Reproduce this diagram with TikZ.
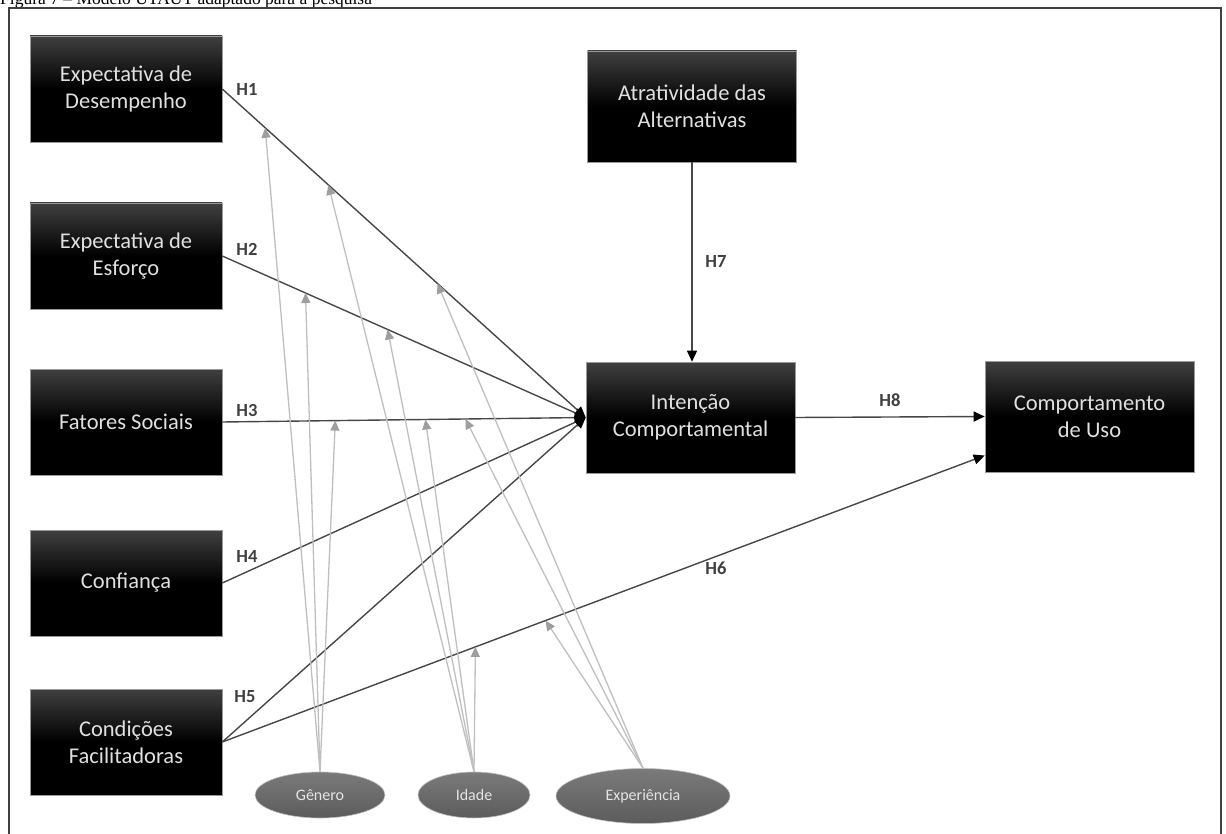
\documentclass[tikz,border=0pt]{standalone}
\usepackage{fontspec}
\setmainfont{Carlito}
\newfontfamily\titlefont{Liberation Serif}
\usetikzlibrary{arrows.meta,shapes.geometric}
\begin{document}
\begin{tikzpicture}[x=1pt,y=-1pt,
  box/.style={draw=black!40, line width=0.6pt, top color=black!75, bottom color=black, middle color=black,
    minimum width=192pt, minimum height=106pt, inner sep=0pt, align=center,
    text=white!88!black, font=\fontsize{22.5}{27}\selectfont},
  bigbox/.style={box, minimum width=209pt, minimum height=111pt},
  oval/.style={ellipse, draw=black!25, line width=0.6pt, top color=black!52, bottom color=black!64,
    inner sep=0pt, text=white!90!black, font=\fontsize{16}{19}\selectfont},
  mainarr/.style={draw=black!72, line width=1.4pt, -{Triangle[length=11pt,width=10pt,color=black]}},
  modarr/.style={draw=black!25, line width=1.3pt, -{Triangle[length=10pt,width=9pt,color=black!38]}},
  hlab/.style={font=\bfseries\fontsize{18.5}{20}\selectfont, text=black!75, inner sep=0pt}
]
\useasboundingbox (0,0) rectangle (1226,834);
% title (cut by the page edge)
\node[anchor=base west, inner sep=0pt, font=\titlefont\fontsize{17.5}{19}\selectfont] (title) at (0,5)
  {Figura 7 – Modelo UTAUT adaptado para a pesquisa};
% frame
\draw[black!75, line width=2pt] (9,845) -- (9,8) -- (1221,8) -- (1221,845);
% boxes
\node[box] (B1) at (126,89) {Expectativa de\\Desempenho};
\node[box] (B2) at (126,256) {Expectativa de\\Esforço};
\node[box] (B3) at (126,422) {Fatores Sociais};
\node[box] (B4) at (126,583) {Confiança};
\node[box] (B5) at (126,742) {Condições\\Facilitadoras};
\node[bigbox] (A) at (692,106.5) {Atratividade das\\Alternativas};
\node[bigbox] (I) at (690.5,417.5) {Intenção\\Comportamental};
\node[bigbox] (C) at (1089.5,416.5) {Comportamento\\de Uso};
% moderators
\node[oval, minimum width=130pt, minimum height=46pt] (G) at (320,795) {Gênero};
\node[oval, minimum width=112pt, minimum height=46pt] (D) at (474,795) {Idade};
\node[oval, minimum width=174pt, minimum height=55pt] (E) at (643,796) {Experiência};
% main connectors
\draw[mainarr] (B1.east) -- coordinate[pos=0.118] (m1g) coordinate[pos=0.292] (m1i) coordinate[pos=0.592] (m1e) (I.west);
\draw[mainarr] (B2.east) -- coordinate[pos=0.229] (m2g) coordinate[pos=0.455] (m2i) (I.west);
\draw[mainarr] (B3.east) -- coordinate[pos=0.311] (m3g) coordinate[pos=0.559] (m3i) coordinate[pos=0.669] (m3e) (I.west);
\draw[mainarr] (B4.east) -- (I.west);
\draw[mainarr] (B5.east) -- (I.west);
\draw[mainarr] (B5.east) -- coordinate[pos=0.332] (m6i) coordinate[pos=0.424] (m6e) ([yshift=-39pt]C.west);
\draw[mainarr] (A.south) -- (A.south |- I.north);
\draw[mainarr] (I.east) -- (C.west);
% moderator connectors
\draw[modarr] (G.north) -- (m1g);
\draw[modarr] (G.north) -- (m2g);
\draw[modarr] (G.north) -- (m3g);
\draw[modarr] (D.north) -- (m1i);
\draw[modarr] (D.north) -- (m2i);
\draw[modarr] (D.north) -- (m3i);
\draw[modarr] (D.north) -- (m6i);
\draw[modarr] (E.north) -- (m1e);
\draw[modarr] (E.north) -- (m3e);
\draw[modarr] (E.north) -- (m6e);
% labels
\node[hlab] (h1) at (247,89) {H1};
\node[hlab] (h2) at (247,249) {H2};
\node[hlab] (h3) at (247,410) {H3};
\node[hlab] (h4) at (247,556) {H4};
\node[hlab] (h5) at (245,697) {H5};
\node[hlab] (h6) at (716,568) {H6};
\node[hlab] (h7) at (716,262) {H7};
\node[hlab] (h8) at (890,400) {H8};
\end{tikzpicture}
\end{document}
